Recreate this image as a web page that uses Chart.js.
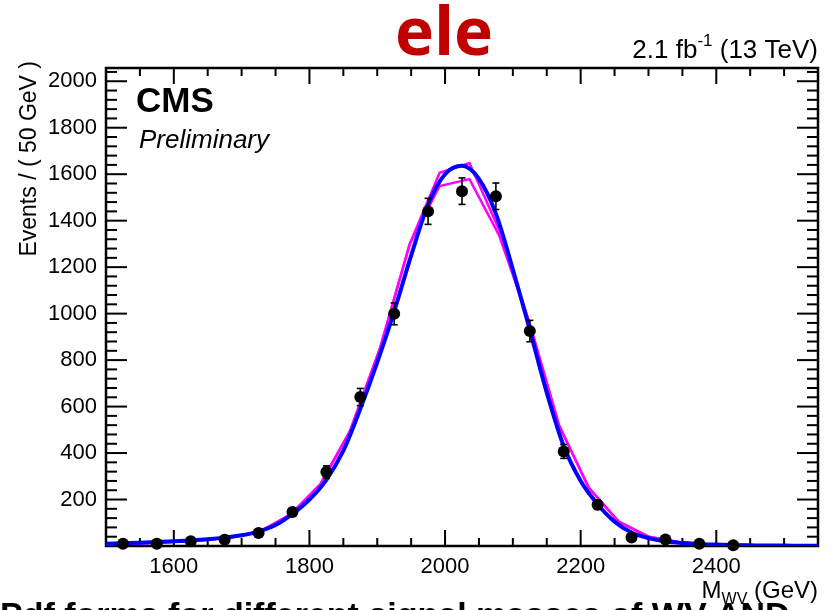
<!DOCTYPE html>
<html>
<head>
<meta charset="utf-8">
<script src="https://cdn.jsdelivr.net/npm/chart.js@4.4.1/dist/chart.umd.min.js"></script>
<style>
  html, body { margin: 0; padding: 0; background: #fff; }
  #wrap { width: 832px; height: 610px; position: relative; overflow: hidden; }
</style>
</head>
<body>
<div id="wrap"><canvas id="c" width="832" height="610"></canvas></div>
<script>
// data points (bin centres, 50 GeV bins)
const binCentres = [1525, 1575, 1625, 1675, 1725, 1775, 1825, 1875, 1925, 1975,
                    2025, 2075, 2125, 2175, 2225, 2275, 2325, 2375, 2425];
const dataCounts = [10, 10, 20, 27, 56, 146, 318, 641, 999, 1440,
                    1527, 1505, 925, 407, 178, 37, 28, 10, 3];
const dataErrors = [5, 5, 7, 8, 11, 18, 27, 37, 47, 56,
                    57, 57, 46, 30, 20, 9, 8, 5, 3];

// fitted shape (blue)
const fitMass = [1500, 1525, 1550, 1575, 1600, 1625, 1650, 1675, 1700, 1725, 1750,
                 1775, 1800, 1825, 1850, 1875, 1900, 1925, 1950, 1975, 2000,
                 2025, 2050, 2075, 2100, 2125, 2150, 2175, 2200, 2225, 2250,
                 2275, 2300, 2325, 2350, 2375, 2400, 2425, 2450, 2475, 2500, 2525, 2550];
const fitValues = [10, 12, 14, 17, 20, 24, 29, 36, 46, 62, 90,
                   138, 200, 285, 410, 590, 790, 1010, 1250, 1470, 1600,
                   1636, 1580, 1430, 1190, 930, 660, 430, 280, 180, 105,
                   58, 34, 20, 13, 8, 6, 4, 3, 2, 2, 1, 1];

// template shapes (magenta)
const tmplMass = [1500, 1508, 1552, 1596, 1640, 1684, 1728, 1772, 1816, 1860, 1904, 1948,
                  1992, 2036, 2080, 2124, 2168, 2212, 2256, 2300, 2344, 2388, 2432, 2476, 2520, 2550];
const tmplUpper = [9, 9, 12, 17, 25, 37, 64, 135, 265, 495, 850, 1300,
                   1606, 1648, 1360, 965, 520, 250, 105, 40, 17, 8, 4, 2, 1, 1];
const tmplLower = [9, 9, 12, 17, 25, 37, 64, 135, 265, 495, 850, 1300,
                   1549, 1579, 1335, 965, 520, 250, 105, 40, 17, 8, 4, 2, 1, 1];

const xTicks = [1600, 1800, 2000, 2200, 2400];
const yTicks = [200, 400, 600, 800, 1000, 1200, 1400, 1600, 1800, 2000];

const FONT = "'Liberation Sans', Arial, Helvetica, sans-serif";

function pairs(xs, ys) {
  return xs.map((x, i) => ({ x: x, y: ys[i] }));
}

function seg(ctx, x1, y1, x2, y2) {
  ctx.beginPath();
  ctx.moveTo(x1, y1);
  ctx.lineTo(x2, y2);
  ctx.stroke();
}

// ROOT-like frame, ticks and labels
const rootStyle = {
  id: 'rootStyle',
  beforeDatasetsDraw(chart) {
    const { ctx, chartArea: a, scales: { x, y } } = chart;
    ctx.save();
    ctx.strokeStyle = '#000';
    ctx.lineWidth = 2;
    for (let v = 1500; v <= 2550; v += 50) {
      const px = x.getPixelForValue(v);
      const len = xTicks.includes(v) ? 16 : 8;
      seg(ctx, px, a.bottom, px, a.bottom - len);
      seg(ctx, px, a.top, px, a.top + len);
    }
    for (let v = 40; v < y.max; v += 40) {
      const py = y.getPixelForValue(v);
      const len = yTicks.includes(v) ? 21 : 11;
      seg(ctx, a.left, py, a.left + len, py);
      seg(ctx, a.right, py, a.right - len, py);
    }
    ctx.lineWidth = 2.5;
    ctx.strokeRect(a.left, a.top, a.right - a.left, a.bottom - a.top);
    ctx.restore();
  },
  afterDatasetsDraw(chart) {
    const { ctx, scales: { x, y } } = chart;
    ctx.save();
    ctx.strokeStyle = '#000';
    ctx.lineWidth = 1.6;
    binCentres.forEach((m, i) => {
      const px = x.getPixelForValue(m);
      const hi = y.getPixelForValue(dataCounts[i] + dataErrors[i]);
      const lo = y.getPixelForValue(Math.max(0, dataCounts[i] - dataErrors[i]));
      seg(ctx, px, hi, px, lo);
      seg(ctx, px - 3.5, hi, px + 3.5, hi);
      seg(ctx, px - 3.5, lo, px + 3.5, lo);
    });
    ctx.restore();
  },
  afterDraw(chart) {
    const { ctx, chartArea: a, scales: { x, y } } = chart;
    ctx.save();
    ctx.fillStyle = '#000';

    // tick labels
    ctx.font = '22px ' + FONT;
    ctx.textAlign = 'right';
    ctx.textBaseline = 'middle';
    yTicks.forEach(v => ctx.fillText(String(v), a.left - 9, y.getPixelForValue(v)));
    ctx.textAlign = 'center';
    ctx.textBaseline = 'alphabetic';
    xTicks.forEach(v => ctx.fillText(String(v), x.getPixelForValue(v), 573));

    // y title
    ctx.save();
    ctx.translate(30, 61);
    ctx.rotate(-Math.PI / 2);
    ctx.textAlign = 'right';
    ctx.textBaseline = 'middle';
    ctx.font = '23px ' + FONT;
    ctx.fillText('Events / ( 50 GeV )', 0, 0);
    ctx.restore();

    // x title: M_WV (GeV)
    ctx.textAlign = 'left';
    ctx.font = '24px ' + FONT;
    const wM = ctx.measureText('M').width;
    const wRest = ctx.measureText(' (GeV)').width;
    ctx.font = '16px ' + FONT;
    const wSub = ctx.measureText('WV').width;
    let sx = a.right - (wM + wSub + wRest);
    ctx.font = '24px ' + FONT;
    ctx.fillText('M', sx, 598);
    ctx.font = '16px ' + FONT;
    ctx.fillText('WV', sx + wM, 604);
    ctx.font = '24px ' + FONT;
    ctx.fillText(' (GeV)', sx + wM + wSub, 598);

    // lumi label: 2.1 fb^-1 (13 TeV)
    ctx.font = '26px ' + FONT;
    const w1 = ctx.measureText('2.1 fb').width;
    const w3 = ctx.measureText(' (13 TeV)').width;
    ctx.font = '17px ' + FONT;
    const w2 = ctx.measureText('-1').width;
    sx = a.right - (w1 + w2 + w3);
    ctx.font = '26px ' + FONT;
    ctx.fillText('2.1 fb', sx, 58);
    ctx.font = '17px ' + FONT;
    ctx.fillText('-1', sx + w1, 46);
    ctx.font = '26px ' + FONT;
    ctx.fillText(' (13 TeV)', sx + w1 + w2, 58);

    // CMS Preliminary
    ctx.font = 'bold 35px ' + FONT;
    ctx.fillText('CMS', 136, 112);
    ctx.font = 'italic 26px ' + FONT;
    ctx.fillText('Preliminary', 139, 148);

    // channel title
    ctx.fillStyle = '#c00000';
    ctx.font = "bold 66px 'Open Sans', sans-serif";
    ctx.textAlign = 'center';
    ctx.fillText('ele', 444, 55);

    // caption cut off at the bottom of the slide
    ctx.fillStyle = '#000';
    ctx.textAlign = 'left';
    ctx.font = 'bold 34px ' + FONT;
    ctx.fillText('Pdf forms for different signal masses of WV AND', 0, 626);
    ctx.restore();
  }
};

new Chart(document.getElementById('c'), {
  type: 'scatter',
  data: {
    datasets: [
      {
        label: 'data',
        data: pairs(binCentres, dataCounts),
        showLine: false,
        pointRadius: 6,
        pointHoverRadius: 6,
        pointBackgroundColor: '#000',
        pointBorderColor: '#000',
        pointBorderWidth: 0,
        clip: false
      },
      {
        label: 'fit',
        type: 'line',
        data: pairs(fitMass, fitValues),
        borderColor: '#0000ff',
        borderWidth: 4,
        pointRadius: 0,
        fill: false,
        cubicInterpolationMode: 'monotone'
      },
      {
        label: 'template up',
        type: 'line',
        data: pairs(tmplMass, tmplUpper),
        borderColor: '#ff00ff',
        borderWidth: 2.5,
        pointRadius: 0,
        fill: false,
        tension: 0
      },
      {
        label: 'template down',
        type: 'line',
        data: pairs(tmplMass, tmplLower),
        borderColor: '#ff00ff',
        borderWidth: 2.5,
        pointRadius: 0,
        fill: false,
        tension: 0
      }
    ]
  },
  options: {
    responsive: false,
    devicePixelRatio: 1,
    animation: false,
    layout: { padding: { left: 106, right: 14, top: 68, bottom: 64 } },
    plugins: { legend: { display: false }, tooltip: { enabled: false } },
    scales: {
      x: { type: 'linear', min: 1500, max: 2550, display: false },
      y: { type: 'linear', min: 0, max: 2057, display: false }
    }
  },
  plugins: [rootStyle]
});
</script>
</body>
</html>
